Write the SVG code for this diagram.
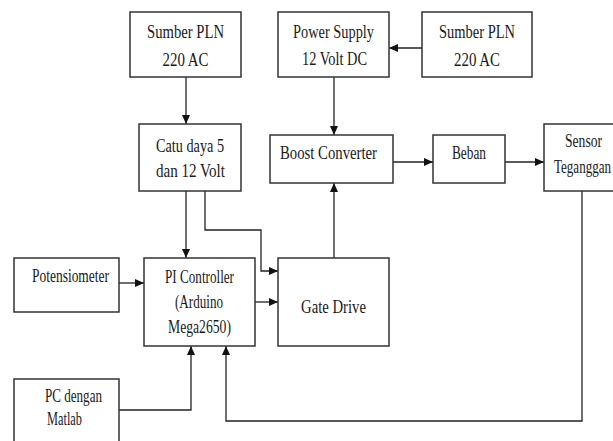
<svg xmlns="http://www.w3.org/2000/svg" width="613" height="441" viewBox="0 0 613 441">
<style>
.box{fill:#fff;stroke:#333;stroke-width:1.5}
.t{font-family:"Liberation Serif","Times New Roman",serif;font-size:19.5px;fill:#1a1a1a;text-anchor:middle}
.ts{font-family:"Liberation Serif","Times New Roman",serif;font-size:19.5px;fill:#1a1a1a;text-anchor:start}
.c{fill:none;stroke:#222;stroke-width:1.3}
</style>
<defs>
<marker id="ah" markerUnits="userSpaceOnUse" markerWidth="11" markerHeight="11" refX="10" refY="5.5" orient="auto">
<path d="M1,1.5 L10,5.5 L1,9.5 Z" fill="#111"/>
</marker>
</defs>
<rect width="613" height="441" fill="#fff"/>
<g id="connectors">
<path class="c" d="M186 77 V124" marker-end="url(#ah)"/>
<path class="c" d="M422 48 H389" marker-end="url(#ah)"/>
<path class="c" d="M334 77 V135" marker-end="url(#ah)"/>
<path class="c" d="M393 162 H433" marker-end="url(#ah)"/>
<path class="c" d="M505 162 H544" marker-end="url(#ah)"/>
<path class="c" d="M186 191 V258" marker-end="url(#ah)"/>
<path class="c" d="M205 191 V230 H261 V271 H278" marker-end="url(#ah)"/>
<path class="c" d="M255 302 H278" marker-end="url(#ah)"/>
<path class="c" d="M334 258 V183" marker-end="url(#ah)"/>
<path class="c" d="M119 283 H144" marker-end="url(#ah)"/>
<path class="c" d="M119 410 H191 V346" marker-end="url(#ah)"/>
<path class="c" d="M582 191 V421 H226 V346" marker-end="url(#ah)"/>
</g>
<g id="sumber1">
<rect class="box" x="130" y="12" width="111" height="65"/>
<text class="t" x="185.5" y="38" textLength="77" lengthAdjust="spacingAndGlyphs">Sumber PLN</text>
<text class="t" x="185.5" y="66" textLength="46" lengthAdjust="spacingAndGlyphs">220 AC</text>
</g>
<g id="power">
<rect class="box" x="278" y="12" width="111" height="65"/>
<text class="t" x="333.5" y="38" textLength="81" lengthAdjust="spacingAndGlyphs">Power Supply</text>
<text class="t" x="334.5" y="65" textLength="65" lengthAdjust="spacingAndGlyphs">12 Volt DC</text>
</g>
<g id="sumber2">
<rect class="box" x="422" y="12" width="110" height="65"/>
<text class="t" x="477" y="38" textLength="76" lengthAdjust="spacingAndGlyphs">Sumber PLN</text>
<text class="t" x="477" y="66" textLength="46" lengthAdjust="spacingAndGlyphs">220 AC</text>
</g>
<g id="catu">
<rect class="box" x="139" y="124" width="102" height="67"/>
<text class="t" x="190" y="152" textLength="68" lengthAdjust="spacingAndGlyphs">Catu daya 5</text>
<text class="t" x="190.5" y="177" textLength="69" lengthAdjust="spacingAndGlyphs">dan 12 Volt</text>
</g>
<g id="boost">
<rect class="box" x="270" y="135" width="123" height="48"/>
<text class="t" x="328.5" y="159" textLength="97" lengthAdjust="spacingAndGlyphs">Boost Converter</text>
</g>
<g id="beban">
<rect class="box" x="433" y="135" width="72" height="48"/>
<text class="t" x="469" y="159" textLength="34" lengthAdjust="spacingAndGlyphs">Beban</text>
</g>
<g id="sensor">
<rect class="box" x="544" y="124" width="90" height="67"/>
<text class="t" x="583.5" y="147" textLength="37" lengthAdjust="spacingAndGlyphs">Sensor</text>
<text class="ts" x="554" y="173" textLength="57" lengthAdjust="spacingAndGlyphs">Teganggan</text>
</g>
<g id="poten">
<rect class="box" x="14" y="258" width="105" height="54"/>
<text class="t" x="70.5" y="282" textLength="77" lengthAdjust="spacingAndGlyphs">Potensiometer</text>
</g>
<g id="pi">
<rect class="box" x="144" y="258" width="111" height="88"/>
<text class="t" x="199.5" y="283" textLength="69" lengthAdjust="spacingAndGlyphs">PI Controller</text>
<text class="t" x="199" y="308" textLength="48" lengthAdjust="spacingAndGlyphs">(Arduino</text>
<text class="t" x="199.5" y="333" textLength="63" lengthAdjust="spacingAndGlyphs">Mega2650)</text>
</g>
<g id="gate">
<rect class="box" x="278" y="258" width="111" height="88"/>
<text class="t" x="333.5" y="313" textLength="65" lengthAdjust="spacingAndGlyphs">Gate Drive</text>
</g>
<g id="pc">
<rect class="box" x="14" y="379" width="105" height="80"/>
<text class="ts" x="45" y="402" textLength="57" lengthAdjust="spacingAndGlyphs">PC dengan</text>
<text class="ts" x="47" y="425" textLength="35" lengthAdjust="spacingAndGlyphs">Matlab</text>
</g>
</svg>
